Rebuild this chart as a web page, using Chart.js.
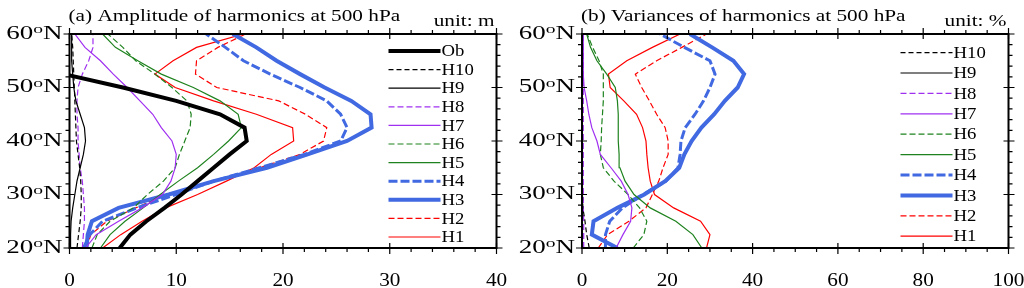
<!DOCTYPE html>
<html>
<head>
<meta charset="utf-8">
<script src="https://cdn.jsdelivr.net/npm/chart.js@4.4.0/dist/chart.umd.min.js"></script>
<style>
  body { margin: 0; background: #fff; }
  #wrap { position: relative; width: 1024px; height: 288px; }
  #wrap canvas { position: absolute; top: 0; }
</style>
</head>
<body>
<div id="wrap">
  <canvas id="ampChart" width="512" height="288" style="left:0"></canvas>
  <canvas id="varChart" width="512" height="288" style="left:512px"></canvas>
</div>
<script>
// latitudes (deg N), every 2.5 deg
var lats = [20, 22.5, 25, 27.5, 30, 32.5, 35, 37.5, 40, 42.5, 45, 47.5, 50, 52.5, 55, 57.5, 60]

// tick labels
var latTicks = [20, 30, 40, 50, 60]
var ampTicks = [0, 10, 20, 30, 40]
var varTicks = [0, 20, 40, 60, 80, 100]

// (a) amplitude of harmonics, unit m
var ampOb  = [4.7, 5.7, 7.2, 8.9, 10.5, 12.0, 13.5, 15.0, 16.6, 16.4, 14.1, 10.0, 5.0, -0.5, null, null, null]
var ampH1  = [3.1, 4.8, 6.8, 9.0, 12.0, 14.7, 17.3, 18.9, 21.0, 20.9, 17.5, 13.5, 9.9, 8.0, 9.7, 11.9, 16.3]
var ampH2  = [1.6, 2.0, 3.5, 6.2, 9.0, 13.5, 17.8, 21.6, 23.8, 24.1, 22.1, 19.6, 13.8, 11.8, 11.9, 13.9, 16.5]
var ampH3  = [1.6, 1.7, 2.1, 4.6, 9.3, 13.5, 18.5, 22.3, 26.0, 28.3, 28.2, 26.4, 23.9, 21.6, 19.4, 17.5, 15.3]
var ampH4  = [1.3, 1.9, 3.1, 6.3, 10.0, 13.5, 17.8, 22.0, 25.4, 26.0, 25.4, 24.1, 21.6, 18.8, 16.3, 14.6, 12.8]
var ampH5  = [2.9, 3.8, 5.2, 6.9, 8.5, 10.2, 12.0, 13.5, 14.9, 16.1, 15.8, 14.1, 11.6, 8.6, 6.4, 4.3, 3.1]
var ampH6  = [2.1, 2.6, 3.8, 6.0, 7.3, 8.8, 9.9, 10.3, 10.8, 11.3, 11.4, 11.0, 9.6, 8.0, 6.2, 5.0, 3.6]
var ampH7  = [1.5, 2.5, 4.6, 6.8, 8.7, 9.5, 9.9, 10.0, 9.6, 8.6, 7.8, 6.6, 5.4, 4.1, 2.9, 1.45, 0.5]
var ampH8  = [1.2, 1.3, 1.4, 1.4, 1.3, 1.2, 1.0, 0.9, 0.8, 0.8, 0.7, 0.7, 0.8, 1.2, 1.8, 2.2, 2.2]
var ampH9  = [0.1, 0.1, 0.15, 0.3, 0.5, 0.7, 1.0, 1.3, 1.5, 1.4, 1.0, 0.6, 0.4, 0.3, 0.2, 0.2, 0.2]
var ampH10 = [0.7, 0.85, 1.0, 1.1, 1.1, 1.05, 0.95, 0.8, 0.65, 0.6, 0.55, 0.5, 0.45, 0.4, 0.35, 0.3, 0.2]

// (b) variances of harmonics, unit %
var varH1  = [29.2, 30.0, 27.8, 21.5, 17.0, 16.0, 15.5, 15.2, 15.0, 14.2, 12.8, 9.8, 6.6, 6.2, 10.5, 16.5, 23.0]
var varH2  = [3.8, 6.0, 11.0, 15.0, 16.5, 18.0, 19.0, 20.2, 20.2, 19.5, 17.5, 15.8, 14.0, 12.5, 17.5, 23.4, 29.2]
var varH3  = [8.3, 2.3, 2.7, 8.3, 14.6, 19.5, 22.8, 24.0, 25.7, 28.0, 31.0, 33.5, 36.5, 38.0, 35.5, 30.5, 25.3]
var varH4  = [5.5, 5.5, 6.5, 9.5, 14.3, 19.7, 22.5, 23.0, 23.2, 24.2, 26.5, 28.5, 30.0, 31.2, 30.0, 24.0, 18.3]
var varH5  = [28.1, 26.0, 22.0, 16.0, 12.2, 10.1, 8.9, 8.7, 8.5, 8.5, 8.5, 8.3, 7.8, 5.8, 3.5, 2.0, 1.1]
var varH6  = [12.0, 14.5, 15.2, 13.5, 10.8, 7.5, 5.0, 4.3, 4.5, 4.6, 4.8, 5.0, 5.0, 5.0, 4.0, 2.5, 1.2]
var varH7  = [8.0, 9.6, 11.4, 11.7, 10.8, 9.2, 6.8, 4.3, 3.5, 2.3, 1.6, 1.1, 0.5, 0.3, 0.3, 0.3, 0.3]
var varH8  = [0.4, 0.4, 0.4, 0.3, 0.3, 0.3, 0.3, 0.3, 0.3, 0.3, 0.3, 0.3, 0.3, 0.3, 0.3, 0.3, 0.3]
var varH9  = [0.1, 0.1, 0.1, 0.1, 0.1, 0.1, 0.1, 0.1, 0.1, 0.1, 0.1, 0.1, 0.1, 0.1, 0.1, 0.1, 0.1]
var varH10 = [1.7, 1.1, 0.7, 0.2, 0.1, 0.1, 0.1, 0.1, 0.1, 0.1, 0.1, 0.1, 0.1, 0.1, 0.1, 0.1, 0.1]

var SERIF = '"Liberation Serif", "DejaVu Serif", serif'
var RED = '#ff0000'
var BLUE = '#4169e1'
var GREEN = '#1e821e'
var PURPLE = '#a030f0'
var BLACK = '#000000'

function toPoints(vals) {
  var pts = []
  for (var i = 0; i < lats.length; i++) {
    if (vals[i] !== null) pts.push({ x: vals[i], y: lats[i] })
  }
  return pts
}

function line(label, vals, color, width, dash) {
  return {
    label: label,
    data: toPoints(vals),
    showLine: true,
    borderColor: color,
    backgroundColor: color,
    borderWidth: width,
    borderDash: dash || [],
    pointRadius: 0,
    fill: false,
    tension: 0
  }
}

// text stretched sideways, like the original figure
function wideText(ctx, text, x, y, sx) {
  ctx.save()
  ctx.translate(x, y)
  ctx.scale(sx, 1)
  ctx.fillText(text, 0, 0)
  ctx.restore()
  return ctx.measureText(text).width * sx
}

var framePlugin = {
  id: 'frame',
  afterDraw: function (chart) {
    var o = chart.options.plugins.frame
    var ctx = chart.ctx
    var a = chart.chartArea
    var xs = chart.scales.x
    var ys = chart.scales.y
    ctx.save()
    ctx.fillStyle = '#000'
    ctx.strokeStyle = '#000'

    // ticks, minor outward, major across the border
    ctx.lineWidth = 1.2
    ctx.beginPath()
    for (var v = xs.min; v <= xs.max + 1e-6; v += o.xMinor) {
      var px = xs.getPixelForValue(v)
      var major = o.xTicks.indexOf(v) >= 0
      ctx.moveTo(px, a.bottom - (major ? 5 : 0)); ctx.lineTo(px, a.bottom + (major ? 6 : 4))
      ctx.moveTo(px, a.top + (major ? 5 : 0)); ctx.lineTo(px, a.top - (major ? 6 : 4))
    }
    for (var w = ys.min; w <= ys.max + 1e-6; w += o.yMinor) {
      var py = ys.getPixelForValue(w)
      var majorY = o.yTicks.indexOf(w) >= 0
      ctx.moveTo(a.left + (majorY ? 5 : 0), py); ctx.lineTo(a.left - (majorY ? 6 : 4), py)
      ctx.moveTo(a.right - (majorY ? 5 : 0), py); ctx.lineTo(a.right + (majorY ? 6 : 4), py)
    }
    ctx.stroke()

    // border
    ctx.lineWidth = 2
    ctx.strokeRect(a.left, a.top, a.right - a.left, a.bottom - a.top)

    // x tick labels
    ctx.font = '18px ' + SERIF
    ctx.textBaseline = 'alphabetic'
    ctx.textAlign = 'left'
    o.xTicks.forEach(function (t) {
      var s = String(t)
      var wdt = ctx.measureText(s).width * 1.18
      wideText(ctx, s, xs.getPixelForValue(t) - wdt / 2, a.bottom + 38, 1.18)
    })

    // y tick labels: 60 + superscript o + N
    ctx.textBaseline = 'middle'
    o.yTicks.forEach(function (t) {
      var py = ys.getPixelForValue(t)
      var sx = 1.5
      ctx.font = '18px ' + SERIF
      var w1 = ctx.measureText(String(t)).width * sx
      var w3 = ctx.measureText('N').width * sx
      ctx.font = '13px ' + SERIF
      var w2 = ctx.measureText('o').width * sx
      var x0 = a.left - 7 - (w1 + w2 + w3)
      ctx.font = '18px ' + SERIF
      wideText(ctx, String(t), x0, py, sx)
      ctx.font = '13px ' + SERIF
      wideText(ctx, 'o', x0 + w1, py - 4, sx)
      ctx.font = '18px ' + SERIF
      wideText(ctx, 'N', x0 + w1 + w2, py, sx)
    })

    // title and unit
    ctx.textBaseline = 'alphabetic'
    ctx.font = '17px ' + SERIF
    wideText(ctx, o.title, a.left - 1, 21, 1.25)
    var uw = ctx.measureText(o.unit).width * 1.25
    wideText(ctx, o.unit, a.right - 2 - uw, 26, 1.25)

    // legend inside the plot, upper right
    ctx.font = '16px ' + SERIF
    ctx.textBaseline = 'middle'
    chart.data.datasets.forEach(function (ds, i) {
      var ly = a.top + o.legendTop + i * o.legendStep
      var x2 = a.right - 56
      ctx.save()
      ctx.strokeStyle = ds.borderColor
      ctx.lineWidth = ds.borderWidth
      ctx.setLineDash(ds.borderDash)
      ctx.beginPath()
      ctx.moveTo(x2 - 52, ly)
      ctx.lineTo(x2, ly)
      ctx.stroke()
      ctx.restore()
      wideText(ctx, ds.label, x2 + 1, ly + 1, 1.17)
    })
    ctx.restore()
  }
}

function panelOptions(xMax, xTicks, xMinor, title, unit, padLeft, legendTop, legendStep) {
  return {
    responsive: false,
    animation: false,
    layout: { padding: { left: padLeft, right: 15.5, top: 34, bottom: 40 } },
    scales: {
      x: { type: 'linear', min: 0, max: xMax, display: false },
      y: { type: 'linear', min: 20, max: 60, display: false }
    },
    elements: { point: { radius: 0 } },
    plugins: {
      legend: { display: false },
      tooltip: { enabled: false },
      frame: {
        xTicks: xTicks, xMinor: xMinor,
        yTicks: latTicks, yMinor: 2,
        title: title, unit: unit,
        legendTop: legendTop, legendStep: legendStep
      }
    }
  }
}

//-------------------
//- AMPLITUDE CHART -
//-------------------
var ampDatasets = [
  line('Ob', ampOb, BLACK, 4),
  line('H10', ampH10, BLACK, 1.2, [5, 3]),
  line('H9', ampH9, BLACK, 1.2),
  line('H8', ampH8, PURPLE, 1.2, [6, 3]),
  line('H7', ampH7, PURPLE, 1.2),
  line('H6', ampH6, GREEN, 1.2, [6, 3]),
  line('H5', ampH5, GREEN, 1.2),
  line('H4', ampH4, BLUE, 3, [9, 3]),
  line('H3', ampH3, BLUE, 4),
  line('H2', ampH2, RED, 1.2, [6, 3]),
  line('H1', ampH1, RED, 1.2)
]

var ampChart = new Chart(document.getElementById('ampChart').getContext('2d'), {
  type: 'scatter',
  data: { datasets: ampDatasets },
  options: panelOptions(40, ampTicks, 2, '(a) Amplitude of harmonics at 500 hPa', 'unit: m', 69.5, 17, 18.6),
  plugins: [framePlugin]
})

//------------------
//- VARIANCE CHART -
//------------------
var varDatasets = [
  line('H10', varH10, BLACK, 1.2, [5, 3]),
  line('H9', varH9, BLACK, 1.2),
  line('H8', varH8, PURPLE, 1.2, [6, 3]),
  line('H7', varH7, PURPLE, 1.2),
  line('H6', varH6, GREEN, 1.2, [6, 3]),
  line('H5', varH5, GREEN, 1.2),
  line('H4', varH4, BLUE, 3, [9, 3]),
  line('H3', varH3, BLUE, 4),
  line('H2', varH2, RED, 1.2, [6, 3]),
  line('H1', varH1, RED, 1.2)
]

var varChart = new Chart(document.getElementById('varChart').getContext('2d'), {
  type: 'scatter',
  data: { datasets: varDatasets },
  options: panelOptions(100, varTicks, 5, '(b) Variances of harmonics at 500 hPa', 'unit: %', 70, 18.6, 20.4),
  plugins: [framePlugin]
})
</script>
</body>
</html>
